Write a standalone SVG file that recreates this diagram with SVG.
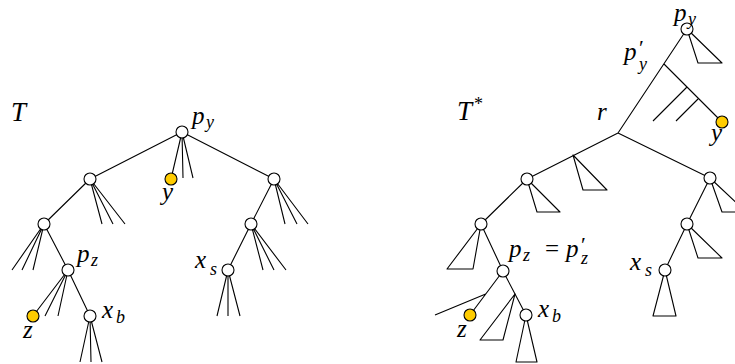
<svg xmlns="http://www.w3.org/2000/svg" width="735" height="364" viewBox="0 0 735 364">
<style>
.e{stroke:#000;stroke-width:1.1;fill:none}
.t{stroke:#000;stroke-width:1.1;fill:#fff;stroke-linejoin:round}
.n{stroke:#000;stroke-width:1.1;fill:#fff}
.y{stroke:#000;stroke-width:1.1;fill:#FFCC00}
text{font-family:"Liberation Serif","DejaVu Serif",serif;font-style:italic;font-size:25px;fill:#000}
.s{font-size:18px}
.u{font-style:normal}
.pr{font-style:normal;font-size:22px}
</style>
<rect width="735" height="364" fill="#fff"/>
<g id="connectors">
<path class="e" d="M182,132L90,179M182,132L171,179M182,132L274,179M90,179L44,224M44,224L68,270M68,270L33,316M68,270L90,316M274,179L251,224M251,224L228,270"/>
<path class="e" d="M182,132L183,178M182,132L193,178M90,179L102,224M90,179L113,224M90,179L125,224M44,224L12,270M44,224L22,270M44,224L33,270M68,270L45,316M68,270L58,316M90,316L80,362M90,316L91,362M90,316L102,362M274,179L285,224M274,179L297,224M274,179L308,224M251,224L263,270M251,224L274,270M251,224L286,270M228,270L217,316M228,270L228,316M228,270L240,316"/>
<path class="e" d="M687,29L618,133M664,64L722,122M687,87L653,121M698,99L676,121M618,133L527,179M618,133L710,178M710,178L687,224M687,224L665,270M527,179L481,224M481,224L503,271M503,271L470,315M485.7,294L435,315M503,271L526,315"/>
</g>
<g id="subtrees">
<polygon class="t" points="687,29 698,63 722,63"/>
<polygon class="t" points="573,155 583,190 607,190"/>
<polygon class="t" points="710,178 722,212 746,212"/>
<polygon class="t" points="687,224 698,258 722,258"/>
<polygon class="t" points="665,270 653,316 676,316"/>
<polygon class="t" points="527,179 537,212 560,212"/>
<polygon class="t" points="481,224 447,269 473,269"/>
<polygon class="t" points="515,294 480,340 503,340"/>
<polygon class="t" points="526,315 516,362 537,362"/>
</g>
<g id="T-root"><circle class="n" cx="182" cy="132" r="6"/></g>
<g id="T-a"><circle class="n" cx="90" cy="179" r="6"/></g>
<g id="T-y"><circle class="y" cx="171" cy="179" r="6"/></g>
<g id="T-b"><circle class="n" cx="274" cy="179" r="6"/></g>
<g id="T-c"><circle class="n" cx="44" cy="224" r="6"/></g>
<g id="T-pz"><circle class="n" cx="68" cy="270" r="6"/></g>
<g id="T-z"><circle class="y" cx="33" cy="316" r="6"/></g>
<g id="T-xb"><circle class="n" cx="90" cy="316" r="6"/></g>
<g id="T-d"><circle class="n" cx="251" cy="224" r="6"/></g>
<g id="T-xs"><circle class="n" cx="228" cy="270" r="6"/></g>
<g id="S-py"><circle class="n" cx="687" cy="29" r="6"/></g>
<g id="S-y"><circle class="y" cx="722" cy="122" r="6"/></g>
<g id="S-n1"><circle class="n" cx="527" cy="179" r="6"/></g>
<g id="S-n2"><circle class="n" cx="710" cy="178" r="6"/></g>
<g id="S-n3"><circle class="n" cx="687" cy="224" r="6"/></g>
<g id="S-xs"><circle class="n" cx="665" cy="270" r="6"/></g>
<g id="S-n4"><circle class="n" cx="481" cy="224" r="6"/></g>
<g id="S-pz"><circle class="n" cx="503" cy="271" r="6"/></g>
<g id="S-z"><circle class="y" cx="470" cy="315" r="6"/></g>
<g id="S-xb"><circle class="n" cx="526" cy="315" r="6"/></g>
<g id="labels">
<text x="11" y="121" style="font-size:27px">T</text>
<text><tspan x="192" y="124">p</tspan><tspan class="s" x="206" y="128">y</tspan></text>
<text x="162" y="200">y</text>
<text><tspan x="77" y="262">p</tspan><tspan class="s" x="91" y="266">z</tspan></text>
<text x="23" y="338">z</text>
<text><tspan x="102" y="318">x</tspan><tspan class="s" x="116" y="323">b</tspan></text>
<text><tspan x="195" y="268">x</tspan><tspan class="s" x="210" y="275">s</tspan></text>
<text><tspan x="457" y="120" style="font-size:27px">T</tspan><tspan class="s u" x="474" y="110">*</tspan></text>
<text x="597" y="120">r</text>
<text><tspan x="624" y="60">p</tspan><tspan class="pr" x="639" y="55">′</tspan><tspan class="s" x="639" y="70">y</tspan></text>
<text><tspan x="674" y="21">p</tspan><tspan class="s" x="688" y="25">y</tspan></text>
<text x="711" y="141">y</text>
<text><tspan x="509" y="257">p</tspan><tspan class="s" x="523" y="261">z</tspan><tspan class="u" x="545" y="257">=</tspan><tspan x="566" y="257">p</tspan><tspan class="pr" x="581" y="252">′</tspan><tspan class="s" x="581" y="264">z</tspan></text>
<text><tspan x="538" y="317">x</tspan><tspan class="s" x="552" y="322">b</tspan></text>
<text x="457" y="337">z</text>
<text><tspan x="630" y="270">x</tspan><tspan class="s" x="645" y="276">s</tspan></text>
</g>
</svg>
